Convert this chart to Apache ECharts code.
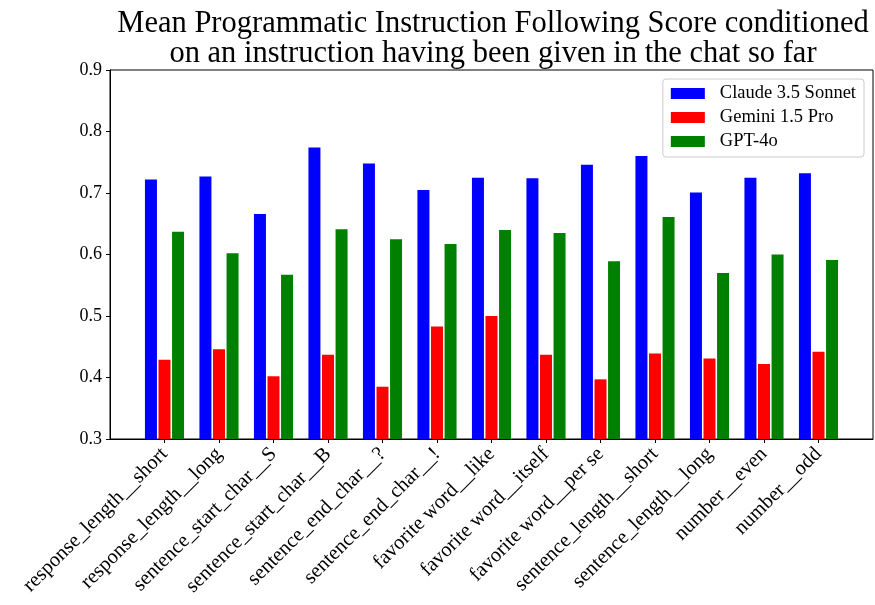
<!DOCTYPE html>
<html>
<head>
<meta charset="utf-8">
<script src="https://cdn.jsdelivr.net/npm/echarts@6/dist/echarts.min.js"></script>
<style>
  body { margin: 0; background: #fff; }
  #chart { width: 875px; height: 605px; }
</style>
</head>
<body>
<div id="chart"></div>
<script>
// categories (as shown on the x axis)
const categories = [
  'response_length__short', 'response_length__long', 'sentence_start_char__S',
  'sentence_start_char__B', 'sentence_end_char__?', 'sentence_end_char__!',
  'favorite word__like', 'favorite word__itself', 'favorite word__per se',
  'sentence_length__short', 'sentence_length__long', 'number__even', 'number__odd'
];
const models = ['Claude 3.5 Sonnet', 'Gemini 1.5 Pro', 'GPT-4o'];
const claude = [0.722, 0.727, 0.666, 0.774, 0.748, 0.705, 0.725, 0.724, 0.746, 0.760, 0.701, 0.725, 0.732];
const gemini = [0.429, 0.446, 0.402, 0.437, 0.385, 0.483, 0.500, 0.437, 0.397, 0.439, 0.431, 0.422, 0.442];
const gpt4o  = [0.637, 0.602, 0.567, 0.641, 0.625, 0.617, 0.640, 0.635, 0.589, 0.661, 0.570, 0.600, 0.591];
const yTicks = [0.3, 0.4, 0.5, 0.6, 0.7, 0.8, 0.9];

const serif = "'Liberation Serif', 'DejaVu Serif', serif";
const colors = ['#0000ff', '#ff0000', '#008000'];
const idx = categories.map((c, i) => i);

const chart = echarts.init(document.getElementById('chart'));

function barSeries(name, values, color) {
  return {
    name: name,
    type: 'bar',
    barWidth: 12,
    barGap: '13%',
    itemStyle: { color: color },
    data: values.map((v, i) => [i, v])
  };
}

const option = {
  animation: false,
  title: {
    text: 'Mean Programmatic Instruction Following Score conditioned\non an instruction having been given in the chat so far',
    left: 488,
    textAlign: 'center',
    top: 4,
    textStyle: { fontFamily: serif, fontWeight: 'normal', fontSize: 30.5, lineHeight: 30, color: '#000' }
  },
  legend: {
    orient: 'vertical',
    right: 11,
    top: 79,
    data: models,
    icon: 'rect',
    itemWidth: 34,
    itemHeight: 11,
    itemGap: 5,
    padding: [5, 8, 6, 8],
    borderColor: '#ccc',
    borderWidth: 1,
    borderRadius: 3,
    textStyle: { fontFamily: serif, fontSize: 18.5, color: '#000', padding: [0, 0, 0, 10] }
  },
  grid: {
    left: 110, right: 2, top: 70, bottom: 166,
    show: true, borderColor: '#000', borderWidth: 1
  },
  xAxis: {
    type: 'value',
    min: -1,
    max: categories.length,
    interval: 1,
    splitLine: { show: false },
    axisLine: { show: true, onZero: false, lineStyle: { color: '#000' } },
    axisTick: { show: true, length: 4, customValues: idx, lineStyle: { color: '#000' } },
    axisLabel: {
      customValues: idx,
      formatter: v => categories[v] || '',
      rotate: 45,
      margin: 12,
      fontFamily: serif,
      fontSize: 20.5,
      color: '#000'
    }
  },
  yAxis: {
    type: 'value',
    min: yTicks[0],
    max: yTicks[yTicks.length - 1],
    interval: 0.1,
    splitLine: { show: false },
    axisLine: { show: true, onZero: false, lineStyle: { color: '#000' } },
    axisTick: { show: true, length: 4, lineStyle: { color: '#000' } },
    axisLabel: {
      formatter: v => v.toFixed(1),
      margin: 8,
      fontFamily: serif,
      fontSize: 18,
      color: '#000'
    }
  },
  series: [
    barSeries(models[0], claude, colors[0]),
    barSeries(models[1], gemini, colors[1]),
    barSeries(models[2], gpt4o, colors[2])
  ]
};

chart.setOption(option);
</script>
</body>
</html>
